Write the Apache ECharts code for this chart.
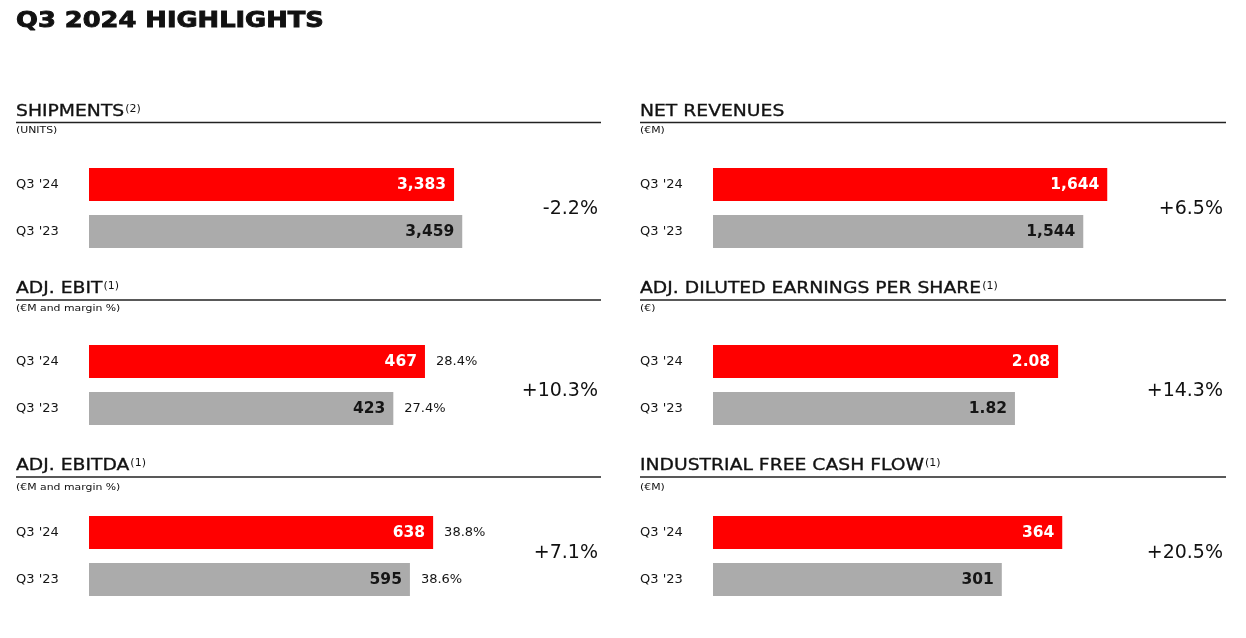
<!DOCTYPE html>
<html>
<head>
<meta charset="utf-8">
<script src="https://cdn.jsdelivr.net/npm/echarts@6/dist/echarts.min.js"></script>
<style>
html,body{margin:0;padding:0;background:#fff;}
#chart{width:1246px;height:638px;}
</style>
</head>
<body>
<div id="chart"></div>
<script>
// ---- data ----
const categories = ["Q3 '24", "Q3 '23"];
const shipments = [3383, 3459];
const netRevenues = [1644, 1544];
const adjEbit = [467, 423];
const adjEbitMargin = [28.4, 27.4];
const adjDilutedEps = [2.08, 1.82];
const adjEbitda = [638, 595];
const adjEbitdaMargin = [38.8, 38.6];
const industrialFcf = [364, 301];
const changeLabels = ['-2.2%', '+6.5%', '+10.3%', '+14.3%', '+7.1%', '+20.5%'];

// ---- panels ----
const panels = [
  {title: 'SHIPMENTS', sup: '(2)', unit: '(UNITS)', values: shipments, margins: null, change: changeLabels[0], decimals: 0, col: 0, row: 0, max: 3707},
  {title: 'NET REVENUES', sup: '', unit: '(€M)', values: netRevenues, margins: null, change: changeLabels[1], decimals: 0, col: 1, row: 0, max: 1668},
  {title: 'ADJ. EBIT', sup: '(1)', unit: '(€M and margin %)', values: adjEbit, margins: adjEbitMargin, change: changeLabels[2], decimals: 0, col: 0, row: 1, max: 556},
  {title: 'ADJ. DILUTED EARNINGS PER SHARE', sup: '(1)', unit: '(€)', values: adjDilutedEps, margins: null, change: changeLabels[3], decimals: 2, col: 1, row: 1, max: 2.411},
  {title: 'ADJ. EBITDA', sup: '(1)', unit: '(€M and margin %)', values: adjEbitda, margins: adjEbitdaMargin, change: changeLabels[4], decimals: 0, col: 0, row: 2, max: 741.6},
  {title: 'INDUSTRIAL FREE CASH FLOW', sup: '(1)', unit: '(€M)', values: industrialFcf, margins: null, change: changeLabels[5], decimals: 0, col: 1, row: 2, max: 416.9}
];

// ---- layout ----
const FONT = '"DejaVu Sans", sans-serif';
const colX = [16, 640];
const colRight = [601, 1226];
const gridLeft = [89, 713];
const gridTop = [161, 338, 509];
const headerY = [112, 289, 466];
const lineY = [122.5, 300, 477];
const unitY = [131, 309, 488];
const changeY = [209, 391, 553];
const barColors = ['#FF0000', '#ABABAB'];
const labelColors = ['#FFFFFF', '#151515'];

const ctx = document.createElement('canvas').getContext('2d');
function tw(text, font) { ctx.font = font; return ctx.measureText(text).width; }

function fmt(v, d) {
  return v.toLocaleString('en-US', {minimumFractionDigits: d, maximumFractionDigits: d});
}

const grids = [], xAxes = [], yAxes = [], series = [], graphics = [];

graphics.push({
  type: 'text', x: 16, y: 21, scaleX: 1.17,
  style: {text: 'Q3 2024 HIGHLIGHTS', font: 'bold 22px ' + FONT, fill: '#111', stroke: '#111', lineWidth: 0.9, textAlign: 'left', textVerticalAlign: 'middle'}
});

const HS = 1.25; // horizontal stretch of header text
panels.forEach((p, i) => {
  const c = p.col, r = p.row;
  grids.push({left: gridLeft[c], top: gridTop[r], width: 400, height: 94, containLabel: false});
  xAxes.push({type: 'value', gridIndex: i, min: 0, max: p.max, show: false});
  yAxes.push({
    type: 'category', gridIndex: i, inverse: true, data: categories,
    axisLine: {show: false}, axisTick: {show: false}, splitLine: {show: false},
    axisLabel: {align: 'left', margin: gridLeft[c] - colX[c], fontSize: 13, color: '#151515', fontFamily: FONT}
  });
  series.push({
    type: 'bar', xAxisIndex: i, yAxisIndex: i, stack: 's' + i, barWidth: 33,
    data: p.values.map((v, k) => ({
      value: v,
      itemStyle: {color: barColors[k]},
      label: {color: labelColors[k]}
    })),
    label: {
      show: true, position: 'insideRight', distance: 8,
      fontSize: 15.5, fontWeight: 'bold', fontFamily: FONT,
      formatter: (o) => fmt(o.value, p.decimals)
    },
    silent: true
  });
  if (p.margins) {
    series.push({
      type: 'bar', xAxisIndex: i, yAxisIndex: i, stack: 's' + i, barWidth: 33,
      data: p.values.map(() => 0),
      itemStyle: {color: 'transparent'},
      label: {
        show: true, position: 'right', distance: 11,
        fontSize: 13, fontFamily: FONT, color: '#151515',
        formatter: (o) => p.margins[o.dataIndex].toFixed(1) + '%'
      },
      silent: true
    });
  }
  // header
  const hFont = '15px ' + FONT;
  graphics.push({
    type: 'text', x: colX[c], y: headerY[r], scaleX: HS,
    style: {text: p.title, font: hFont, fill: '#111', stroke: '#111', lineWidth: 0.3, textAlign: 'left', textVerticalAlign: 'middle'}
  });
  if (p.sup) {
    const w = tw(p.title, hFont) * HS;
    graphics.push({
      type: 'text', x: colX[c] + w + 1, y: headerY[r] - 3, scaleX: 1.1,
      style: {text: p.sup, font: '10px ' + FONT, fill: '#111', textAlign: 'left', textVerticalAlign: 'middle'}
    });
  }
  graphics.push({
    type: 'line', shape: {x1: colX[c], y1: lineY[r], x2: colRight[c], y2: lineY[r]},
    style: {stroke: '#222', lineWidth: 1.3}
  });
  graphics.push({
    type: 'text', x: colX[c], y: unitY[r], scaleX: 1.28,
    style: {text: p.unit, font: '8.5px ' + FONT, fill: '#111', textAlign: 'left', textVerticalAlign: 'middle'}
  });
  graphics.push({
    type: 'text', x: colRight[c] - 3, y: changeY[r],
    style: {text: p.change, font: '19px ' + FONT, fill: '#111', textAlign: 'right', textVerticalAlign: 'middle'}
  });
});

const chart = echarts.init(document.getElementById('chart'), null, {renderer: 'canvas'});
chart.setOption({
  animation: false,
  backgroundColor: '#fff',
  grid: grids,
  xAxis: xAxes,
  yAxis: yAxes,
  series: series,
  graphic: graphics
});
</script>
</body>
</html>
